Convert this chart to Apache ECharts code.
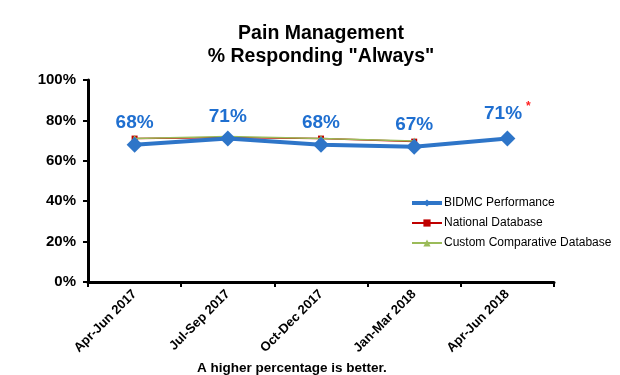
<!DOCTYPE html>
<html><head><meta charset="utf-8">
<script src="https://cdn.jsdelivr.net/npm/echarts@6/dist/echarts.min.js"></script>
<style>html,body{margin:0;padding:0;background:#fff}#c{width:620px;height:375px}</style>
</head><body><div id="c"></div>
<script>
const categories = ['Apr-Jun 2017','Jul-Sep 2017','Oct-Dec 2017','Jan-Mar 2018','Apr-Jun 2018'];
const bidmc = [68, 71, 68, 67, 71];
const national = [71, 71.5, 71, 69.5, null];
const custom = [71, 72, 71, 69.8, null];
const yTicks = [0, 20, 40, 60, 80, 100];

const F = 'Arial, "Liberation Sans", sans-serif';
const chart = echarts.init(document.getElementById('c'));
chart.setOption({
  animation: false,
  title: {
    text: 'Pain Management\n% Responding "Always"',
    left: 316, top: 17, textAlign: 'center',
    textStyle: {fontFamily: F, fontWeight: 'bold', fontSize: 19.5, color: '#000', lineHeight: 23, align: 'center'}
  },
  graphic: [{
    type: 'text', left: 197, top: 361,
    style: {text: 'A higher percentage is better.', font: 'bold 13.5px ' + F, fill: '#000'}
  }],
  legend: {
    orient: 'vertical', left: 405, top: 192, itemGap: 8, itemWidth: 30, itemHeight: 9,
    textStyle: {fontFamily: F, fontSize: 12, color: '#000', padding: [0, 0, 0, -3]},
    data: [
      {name: 'BIDMC Performance', lineStyle: {width: 4}},
      {name: 'National Database', lineStyle: {width: 2}},
      {name: 'Custom Comparative Database', lineStyle: {width: 2}}
    ]
  },
  grid: {left: 88, right: 66, top: 80, bottom: 93},
  xAxis: {
    type: 'category', data: categories, boundaryGap: true,
    axisLine: {lineStyle: {color: '#000', width: 3}},
    axisTick: {show: true, length: 5, lineStyle: {color: '#000', width: 2}},
    axisLabel: {rotate: 45, fontFamily: F, fontWeight: 'bold', fontSize: 13, color: '#000', margin: 10}
  },
  yAxis: {
    type: 'value', min: 0, max: 100, interval: 20,
    splitLine: {show: false},
    axisLine: {show: true, lineStyle: {color: '#000', width: 3}},
    axisTick: {show: true, length: 5, lineStyle: {color: '#000', width: 2}},
    axisLabel: {fontFamily: F, fontWeight: 'bold', fontSize: 15, color: '#000', margin: 12,
      formatter: v => yTicks.includes(v) ? v + '%' : ''}
  },
  series: [
    {
      name: 'BIDMC Performance', type: 'line', data: bidmc, z: 5,
      symbol: 'diamond', symbolSize: 16,
      lineStyle: {color: '#2E75C8', width: 4},
      itemStyle: {color: '#2E75C8'},
      label: {
        show: true, position: 'top', distance: 4,
        fontFamily: F, fontWeight: 'bold', fontSize: 19, color: '#1F6FD0',
        formatter: p => p.dataIndex === bidmc.length - 1 ? p.value + '%{s|*}' : p.value + '%',
        rich: {s: {color: '#FF2020', fontSize: 12, verticalAlign: 'top', padding: [0, 0, 14, 4]}}
      }
    },
    {
      name: 'National Database', type: 'line', data: national, z: 3,
      symbol: 'rect', symbolSize: 6,
      lineStyle: {color: '#C00000', width: 1.5},
      itemStyle: {color: '#C00000'}
    },
    {
      name: 'Custom Comparative Database', type: 'line', data: custom, z: 4,
      symbol: 'triangle', symbolSize: 7,
      lineStyle: {color: '#9BBB59', width: 1.5},
      itemStyle: {color: '#9BBB59'}
    }
  ]
});
</script></body></html>
